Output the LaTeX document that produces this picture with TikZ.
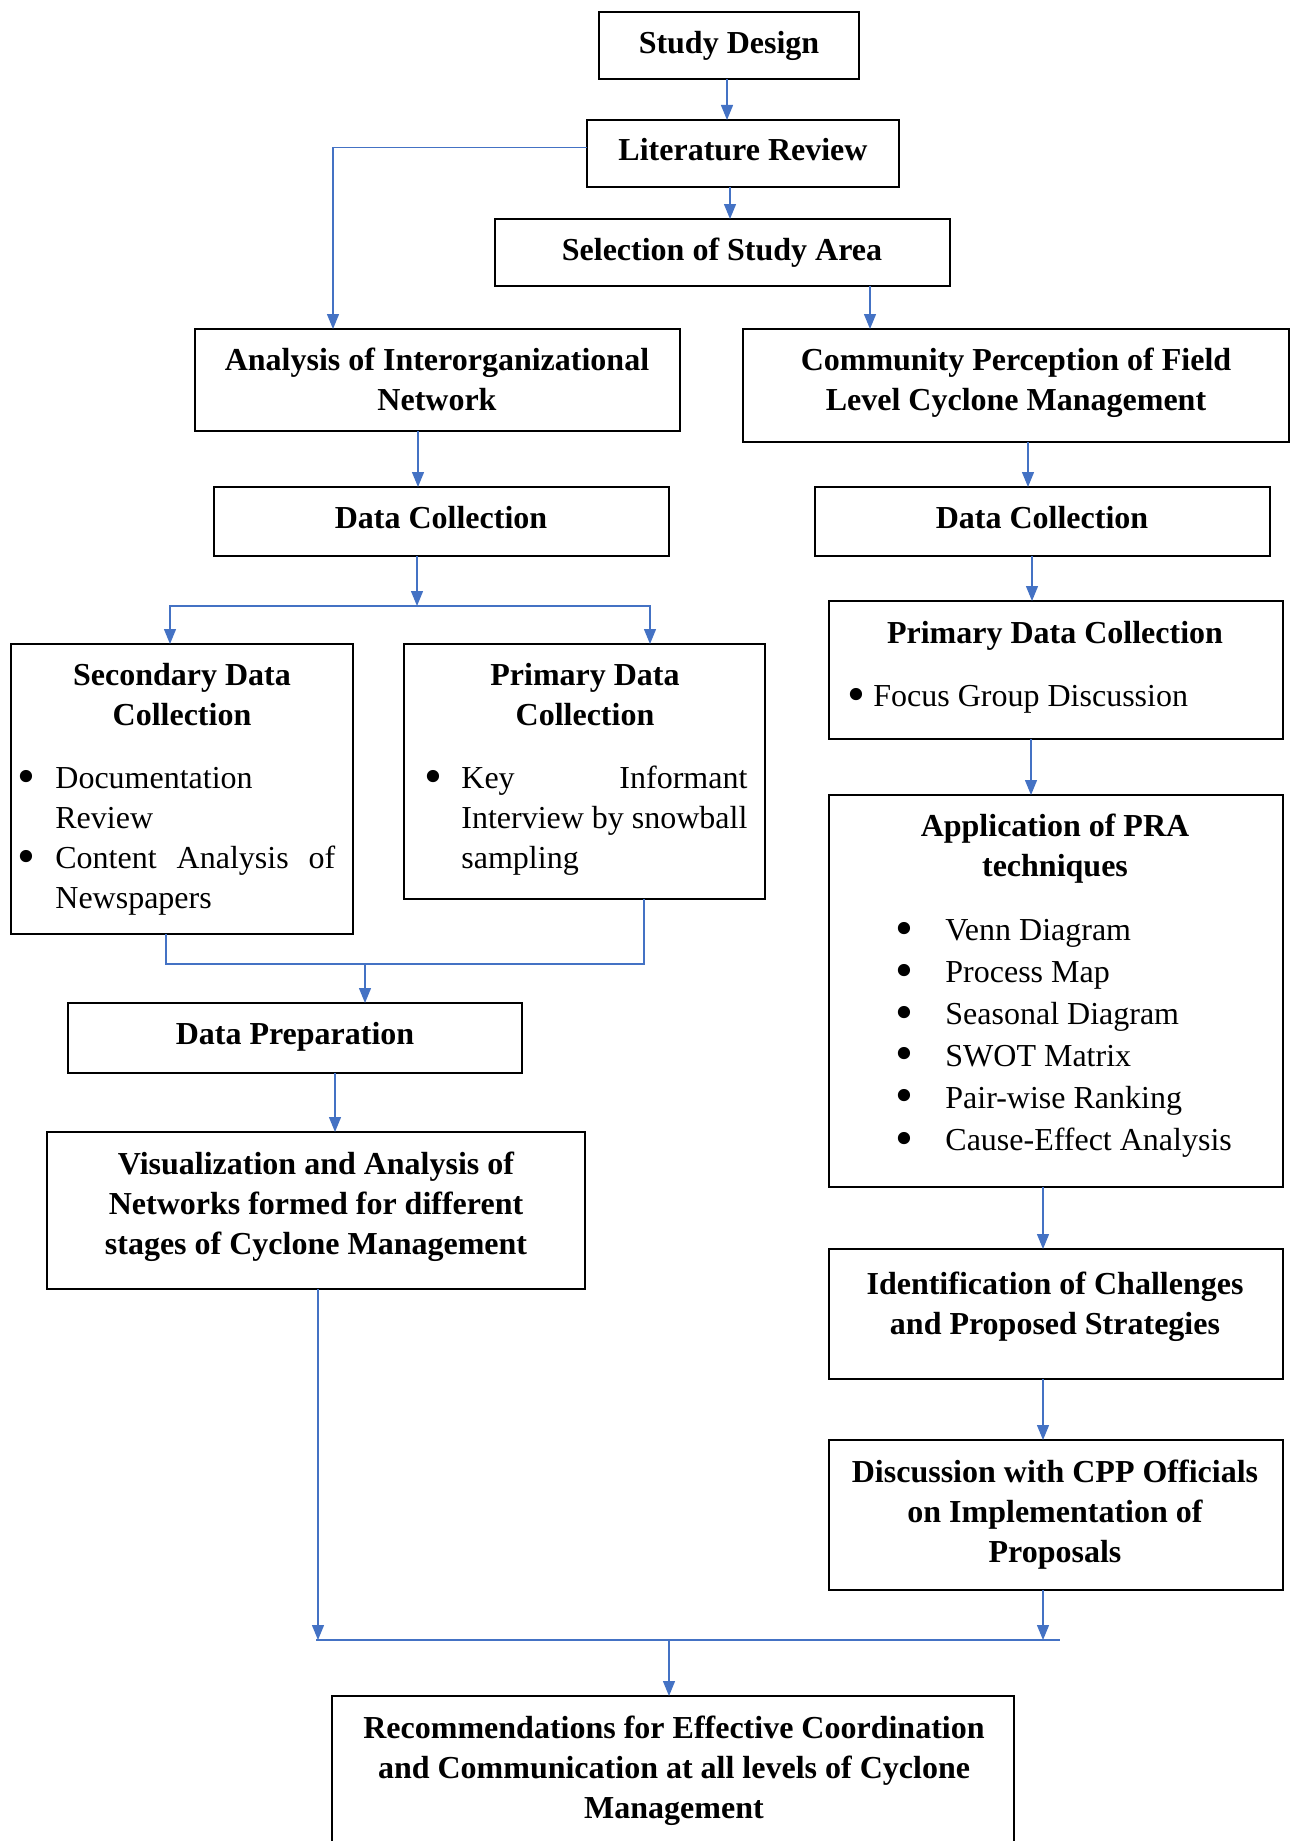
\documentclass[tikz,border=0pt]{standalone}
\usepackage{graphicx}
\usepackage{fontspec}
\setmainfont{Liberation Serif}
\usetikzlibrary{arrows.meta}
\definecolor{flow}{HTML}{4472C4}
% a larger list bullet, kept centred on the x-height, taking no vertical room
\newcommand\listbullet{\raisebox{-2.8pt}[0pt][0pt]{\scalebox{1.6}{•}}}
\begin{document}
\begin{tikzpicture}[x=0.5pt,y=-0.5pt,
  box/.style={draw=black, line width=1.25pt, inner sep=0pt, outer sep=0pt, anchor=north west},
  % multi-line texts are placed by the baseline of their last line
  head/.style={anchor=base, inner sep=0pt, align=center, font=\fontsize{16}{20}\selectfont\bfseries},
  item/.style={anchor=base west, inner sep=0pt, align=left, font=\fontsize{16}{20}\selectfont},
  dot/.style={anchor=base, inner sep=0pt, align=center, font=\fontsize{16}{20}\selectfont},
  link/.style={draw=flow, line width=0.65pt},
  arr/.style={link, -{Triangle[length=7.5pt,width=6pt]}}]
\useasboundingbox (0,0) rectangle (1297,1841);

% boxes
\node[box, minimum width=130pt, minimum height=33.5pt] (sd) at (599,12) {};
\node[box, minimum width=156pt, minimum height=33.5pt] (lr) at (587,120) {};
\node[box, minimum width=227.5pt, minimum height=33.5pt] (sel) at (495,219) {};
\node[box, minimum width=242.5pt, minimum height=51pt] (an) at (195,329) {};
\node[box, minimum width=273pt, minimum height=56.5pt] (cp) at (743,329) {};
\node[box, minimum width=227.5pt, minimum height=34.5pt] (dcl) at (214,487) {};
\node[box, minimum width=227.5pt, minimum height=34.5pt] (dcr) at (815,487) {};
\node[box, minimum width=171pt, minimum height=145pt] (sec) at (11,644) {};
\node[box, minimum width=180.5pt, minimum height=127.5pt] (pl) at (404,644) {};
\node[box, minimum width=227pt, minimum height=69pt] (pr) at (829,601) {};
\node[box, minimum width=227pt, minimum height=196pt] (pra) at (829,795) {};
\node[box, minimum width=227pt, minimum height=35pt] (dp) at (68,1003) {};
\node[box, minimum width=269pt, minimum height=78.5pt] (vis) at (47,1132) {};
\node[box, minimum width=227pt, minimum height=65pt] (id) at (829,1249) {};
\node[box, minimum width=227pt, minimum height=75pt] (disc) at (829,1440) {};
\node[box, minimum width=341pt, minimum height=125pt] (rec) at (332,1696) {};

% texts
\node[head] (sdt) at (729,54) {Study Design};
\node[head] (lrt) at (743,161) {Literature Review};
\node[head] (selt) at (722,260) {Selection of Study Area};
\node[head] (ant) at (437,410) {Analysis of Interorganizational\\Network};
\node[head] (cpt) at (1016,410) {Community Perception of Field\\Level Cyclone Management};
\node[head] (dclt) at (441,528) {Data Collection};
\node[head] (dcrt) at (1042,528) {Data Collection};

\node[head] (sect) at (182,725) {Secondary Data\\Collection};
\node[dot] (secb1) at (26,788) {\listbullet};
\node[dot] (secb2) at (26,868) {\listbullet};
\node[item] (seci) at (55,908) {Documentation\\Review\\\makebox[140pt][s]{Content Analysis of}\\Newspapers};

\node[head] (plt) at (585,725) {Primary Data\\Collection};
\node[dot] (plb) at (433,788) {\listbullet};
\node[item] (pli) at (461,868) {\makebox[143pt][s]{Key Informant}\\\makebox[143pt][s]{Interview by snowball}\\sampling};

\node[head] (prt) at (1055,643) {Primary Data Collection};
\node[dot] (prb) at (856,706) {\listbullet};
\node[item] (pri) at (873,706) {Focus Group Discussion};

\node[head] (prat) at (1055,876) {Application of PRA\\techniques};
\foreach \k/\yy in {1/940,2/982,3/1024,4/1065,5/1107,6/1150}
  \node[dot] (prab\k) at (904,\yy) {\listbullet};
\node[item, font=\fontsize{16}{21}\selectfont] (prai) at (945,1150) {Venn Diagram\\Process Map\\Seasonal Diagram\\SWOT Matrix\\Pair-wise Ranking\\Cause-Effect Analysis};

\node[head] (dpt) at (295,1044) {Data Preparation};
\node[head] (vist) at (316,1254) {Visualization and Analysis of\\Networks formed for different\\stages of Cyclone Management};
\node[head] (idt) at (1055,1334) {Identification of Challenges\\and Proposed Strategies};
\node[head] (disct) at (1055,1562) {Discussion with CPP Officials\\on Implementation of\\Proposals};
\node[head] (rect) at (674,1818) {Recommendations for Effective Coordination\\and Communication at all levels of Cyclone\\Management};

% connectors
\draw[arr] (sd.south -| 727,0) -- (lr.north -| 727,0);
\draw[arr] (lr.south -| 730,0) -- (sel.north -| 730,0);
\draw[arr] ([yshift=3pt]lr.west) -| (an.north -| 333,0);
\draw[arr] (sel.south -| 870,0) -- (cp.north -| 870,0);
\draw[arr] (an.south -| 418,0) -- (dcl.north -| 418,0);
\draw[arr] (cp.south -| 1028,0) -- (dcr.north -| 1028,0);

\coordinate (s1) at (417,606);
\draw[arr] (dcl.south -| s1) -- (s1);
\draw[arr] (s1) -| (sec.north -| 170,0);
\draw[arr] (s1) -| (pl.north -| 650,0);

\draw[arr] (dcr.south -| 1032,0) -- (pr.north -| 1032,0);
\draw[arr] (pr.south -| 1031,0) -- (pra.north -| 1031,0);

\coordinate (m1) at (365,964);
\draw[link] (sec.south -| 166,0) |- (m1);
\draw[link] (pl.south -| 644,0) |- (m1);
\draw[arr] (m1) -- (dp.north -| m1);
\draw[arr] (dp.south -| 335,0) -- (vis.north -| 335,0);

\draw[arr] (pra.south -| 1043,0) -- (id.north -| 1043,0);
\draw[arr] (id.south -| 1043,0) -- (disc.north -| 1043,0);

\coordinate (m2) at (669,1640);
\coordinate (m2l) at (316,1640);
\coordinate (m2r) at (1060,1640);
\draw[link] (m2l) -- (m2r);
\draw[arr] (vis.south -| 318,0) -- (m2 -| 318,0);
\draw[arr] (disc.south -| 1043,0) -- (m2 -| 1043,0);
\draw[arr] (m2) -- (rec.north -| m2);
\end{tikzpicture}
\end{document}
